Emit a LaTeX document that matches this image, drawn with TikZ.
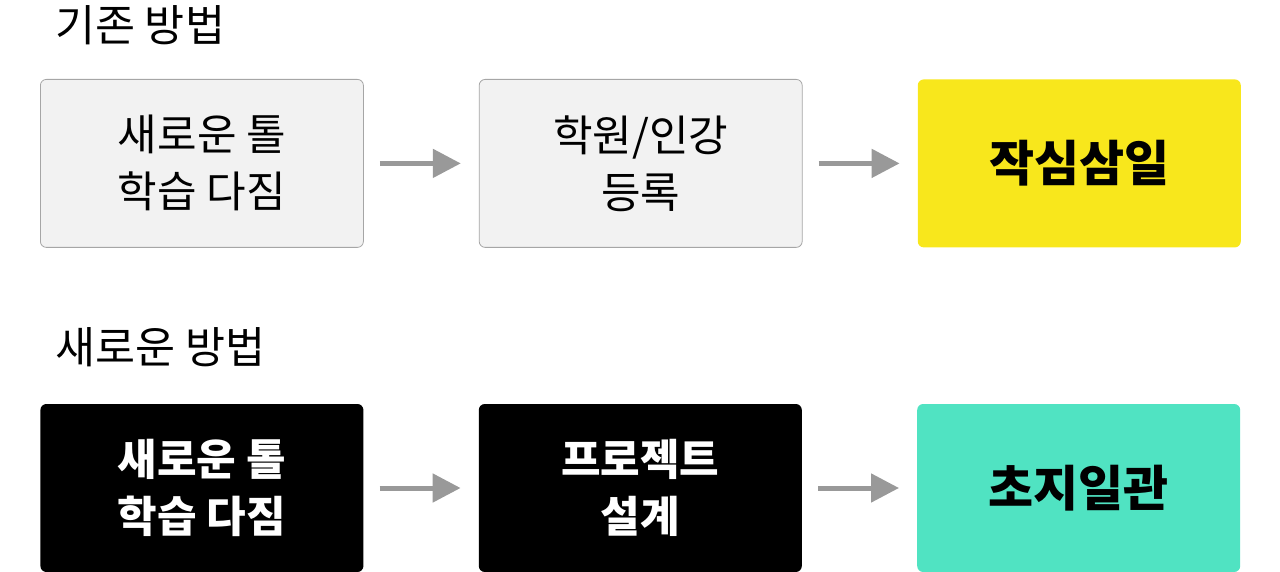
\documentclass[tikz,border=0pt]{standalone}
\usepackage{fontspec}
\newfontfamily\krfont{Noto Sans CJK KR}
\usetikzlibrary{positioning,arrows.meta}
\definecolor{boxgray}{HTML}{F2F2F2}
\definecolor{edgegray}{HTML}{A6A6A6}
\definecolor{arrowgray}{HTML}{999999}
\definecolor{failyellow}{HTML}{F8E71C}
\definecolor{winteal}{HTML}{50E3C2}

\begin{document}
\begin{tikzpicture}[x=1pt, y=-1pt,
  stepbox/.style={rounded corners=6pt, minimum width=323pt, minimum height=168pt,
    align=center, inner sep=0pt, font=\krfont\fontsize{43}{57}\selectfont},
  oldbox/.style={stepbox, fill=boxgray, draw=edgegray, line width=0.8pt},
  newbox/.style={stepbox, fill=black, text=white, font=\krfont\bfseries\fontsize{43}{57}\selectfont},
  yellowbox/.style={stepbox, fill=failyellow, font=\krfont\bfseries\fontsize{49}{57}\selectfont},
  tealbox/.style={stepbox, fill=winteal, font=\krfont\bfseries\fontsize{49}{57}\selectfont},
  heading/.style={anchor=west, inner sep=0pt, font=\krfont\fontsize{43.5}{50}\selectfont},
  flow/.style={arrowgray, line width=5pt, shorten <=16pt, shorten >=18pt,
    -{Triangle[length=28pt, width=28pt]}}]
  \useasboundingbox (0,0) rectangle (1280,572);

  % old way
  \node[heading] (oldtitle) at (55,25) {기존 방법};
  \node[oldbox, anchor=north west] (old1) at (40,79) {새로운 톨\\학습 다짐};
  \node[oldbox, right=115pt of old1] (old2) {학원/인강\\등록};
  \node[yellowbox, right=115pt of old2] (old3) {작심삼일};
  \draw[flow] (old1) -- (old2);
  \draw[flow] (old2) -- (old3);

  % new way
  \node[heading] (newtitle) at (55,347) {새로운 방법};
  \node[newbox, below=156pt of old1] (new1) {새로운 톨\\학습 다짐};
  \node[newbox, right=115pt of new1] (new2) {프로젝트\\설계};
  \node[tealbox, right=115pt of new2] (new3) {초지일관};
  \draw[flow] (new1) -- (new2);
  \draw[flow] (new2) -- (new3);
\end{tikzpicture}
\end{document}
